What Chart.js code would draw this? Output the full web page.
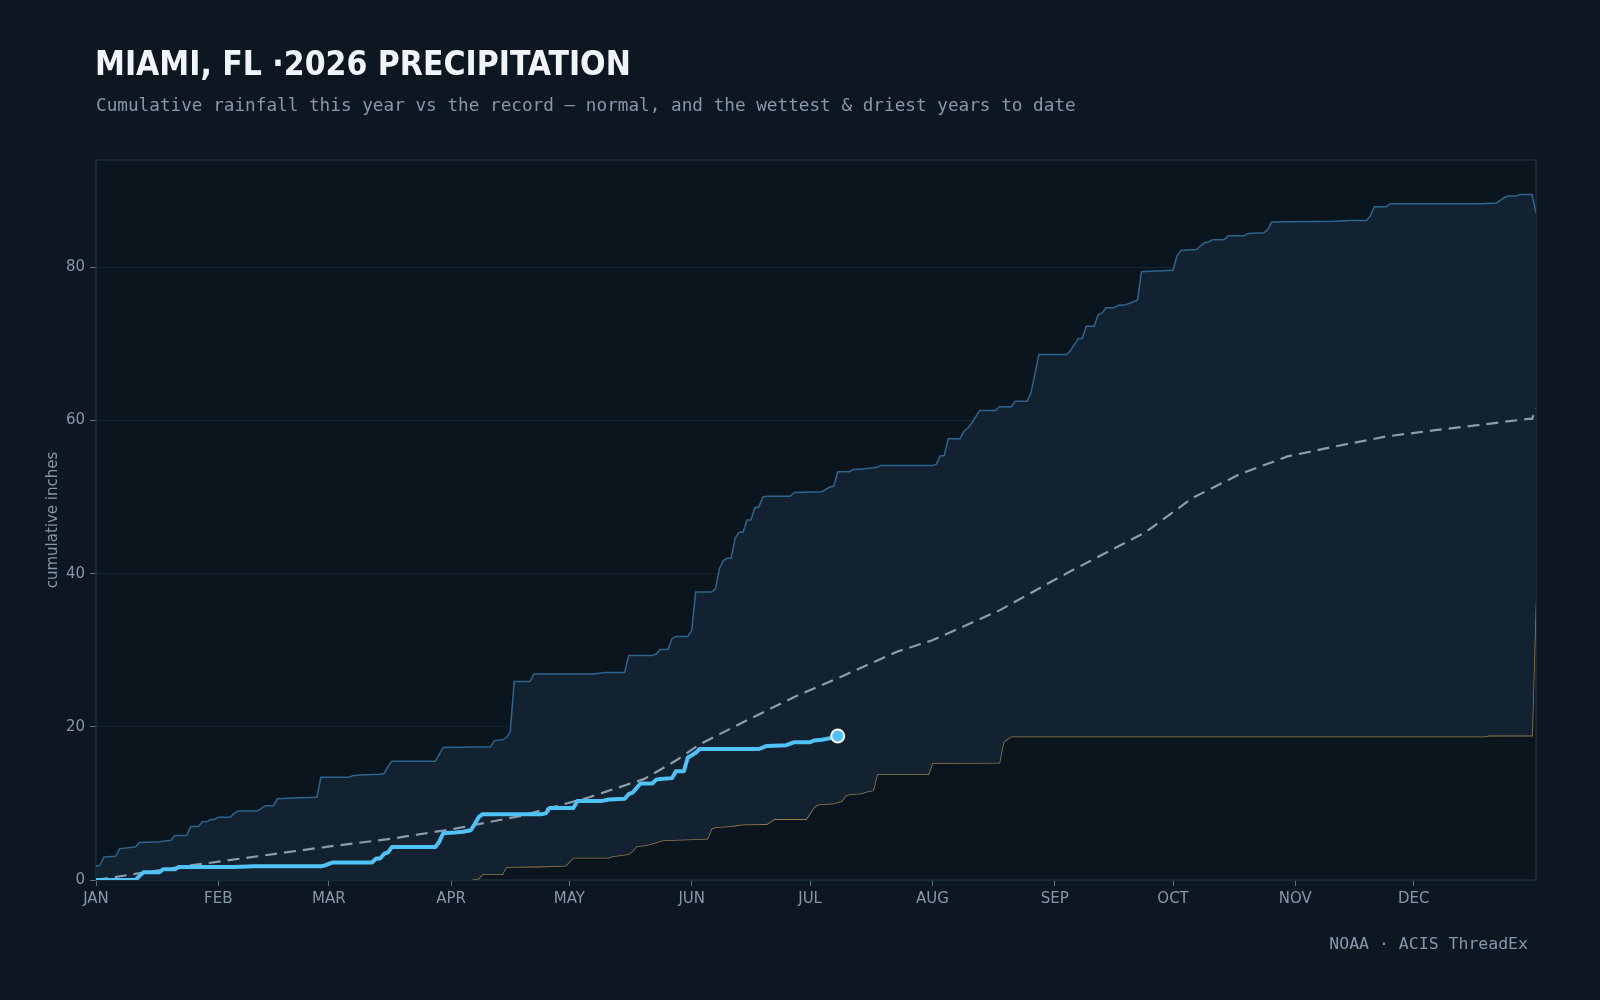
<!DOCTYPE html>
<html>
<head>
<meta charset="utf-8">
<script src="https://cdn.jsdelivr.net/npm/chart.js@4.4.1/dist/chart.umd.min.js"></script>
<style>
  html, body { margin:0; padding:0; background:#0d1721; width:1600px; height:1000px; overflow:hidden; }
  #wrap { position:relative; width:1600px; height:1000px; }
  #c { position:absolute; left:0; top:0; }
  .t { position:absolute; white-space:nowrap; line-height:1; }
  #title { left:95px; top:46.5px; font-family:"DejaVu Sans Condensed","DejaVu Sans",sans-serif; font-stretch:condensed; font-weight:bold; font-size:33.4px; color:#f1f5f9; }
  #subtitle { left:96px; top:97px; font-family:"DejaVu Sans Mono",monospace; font-size:17.7px; color:#8797ab; }
  #footer { right:72px; top:936px; font-family:"DejaVu Sans Mono",monospace; font-size:16.5px; color:#8797ab; }
</style>
</head>
<body>
<div id="wrap">
  <canvas id="c" width="1600" height="1000"></canvas>
  <div class="t" id="title">MIAMI, FL ·2026 PRECIPITATION</div>
  <div class="t" id="subtitle">Cumulative rainfall this year vs the record — normal, and the wettest &amp; driest years to date</div>
  <div class="t" id="footer">NOAA · ACIS ThreadEx</div>
</div>
<script>
// ---- tick labels ----
const MONTH_LABELS = ['JAN','FEB','MAR','APR','MAY','JUN','JUL','AUG','SEP','OCT','NOV','DEC'];
const MONTH_START_DAYS = [0,31,59,90,120,151,181,212,243,273,304,334];
const Y_TICKS = [0,20,40,60,80];

// ---- this year (2026) ----
const YEAR_DAYS   = [0,10,11,12,16,17,20,21,35,40,57,58,59,60,70,71,72,73,74,75,86,87,88,91,93,95,96,97,98,113,114,115,121,122,128,130,134,135,136,137,138,141,142,143,146,147,149,150,151,152,153,168,170,175,177,181,182,184,186,188];
const YEAR_VALUES = [0,0,0.5,1.0,1.0,1.4,1.4,1.7,1.7,1.8,1.8,1.9,2.1,2.3,2.3,2.8,2.8,3.4,3.6,4.3,4.3,5.0,6.1,6.2,6.3,6.5,7.3,8.2,8.6,8.6,8.7,9.4,9.4,10.3,10.3,10.5,10.6,11.2,11.4,12.0,12.6,12.6,13.1,13.2,13.3,14.2,14.2,16.0,16.3,16.6,17.1,17.1,17.5,17.6,18.0,18.0,18.2,18.3,18.5,18.8];

// ---- normal ----
const NORMAL_DAYS   = [0,10,24,41,58,75,91,108,125,139,147,153,164,177,190,203,212,229,243,247,266,278,290,302,315,327,339,352,363,364,365];
const NORMAL_VALUES = [0,0.8,1.9,3.1,4.3,5.4,6.7,8.4,10.8,13.2,15.6,17.7,20.6,23.9,26.8,29.8,31.3,35.2,39.2,40.3,45.4,49.9,53.0,55.3,56.7,57.9,58.7,59.5,60.2,60.2,61.6];

// ---- wettest to date ----
const WET_DAYS   = [0,1,2,5,6,10,11,16,19,20,23,24,26,27,28,29,30,31,34,35,36,41,42,43,45,46,50,56,57,64,65,67,72,73,74,75,86,87,88,100,101,103,104,105,106,110,111,126,129,134,135,141,142,143,145,146,147,150,151,152,156,157,158,159,160,161,162,163,164,165,166,167,168,169,170,176,177,184,186,187,188,191,192,195,198,199,212,213,214,215,216,219,220,221,222,224,228,229,232,233,236,237,239,246,247,249,250,251,253,254,255,256,258,259,261,263,264,265,273,274,275,279,280,281,282,283,286,287,291,292,296,297,298,314,318,322,323,324,327,328,351,355,357,358,360,361,364,365];
const WET_VALUES = [1.8,1.9,3.0,3.1,4.1,4.3,4.9,5.0,5.2,5.8,5.8,7.0,7.0,7.6,7.6,7.9,7.9,8.2,8.2,8.7,9.0,9.0,9.4,9.7,9.7,10.6,10.7,10.8,13.4,13.4,13.6,13.7,13.8,13.9,14.8,15.5,15.5,16.4,17.3,17.4,18.2,18.3,18.6,19.3,25.9,25.9,26.9,26.9,27.1,27.1,29.3,29.3,29.5,30.1,30.1,31.5,31.8,31.8,32.6,37.6,37.6,38.0,40.6,41.7,42.0,42.0,44.6,45.4,45.4,47.0,47.0,48.6,48.7,50.0,50.1,50.1,50.6,50.7,51.3,51.4,53.3,53.3,53.6,53.7,53.9,54.1,54.1,54.3,55.4,55.4,57.6,57.6,58.6,59.0,59.7,61.3,61.3,61.8,61.8,62.5,62.5,63.6,68.6,68.6,69.1,70.7,70.7,72.3,72.3,73.8,74.0,74.7,74.7,75.0,75.1,75.5,75.7,79.4,79.6,81.5,82.2,82.3,82.8,83.2,83.3,83.6,83.6,84.1,84.1,84.4,84.5,84.9,85.9,86.0,86.1,86.1,86.7,87.9,87.9,88.3,88.3,88.4,89.1,89.3,89.3,89.5,89.5,87.1];

// ---- driest to date ----
const DRY_DAYS   = [0,95,97,98,103,104,112,119,121,130,131,134,135,136,137,139,140,142,143,144,150,155,156,157,160,162,164,170,171,172,180,181,182,183,187,189,190,191,194,195,196,197,198,211,212,229,230,231,232,352,353,364,365];
const DRY_VALUES = [0,0,0.2,0.75,0.75,1.7,1.75,1.85,2.9,2.9,3.1,3.3,3.4,3.8,4.4,4.5,4.6,4.9,5.1,5.2,5.3,5.4,6.7,6.9,7.0,7.1,7.25,7.3,7.6,7.95,7.95,8.7,9.5,9.85,10.0,10.3,11.0,11.2,11.3,11.5,11.6,11.7,13.8,13.8,15.25,15.3,18.0,18.4,18.75,18.75,18.85,18.85,37.1];

const Y_MAX = 94;
const X_MAX = 365;

const pts = (xs, ys) => xs.map((x, i) => ({ x: x, y: ys[i] }));

const TEXT = '#8797ab';

const framePlugin = {
  id: 'frame',
  beforeDraw(chart) {
    const { ctx, chartArea: a } = chart;
    ctx.save();
    ctx.fillStyle = '#0b151e';
    ctx.fillRect(a.left, a.top, a.right - a.left, a.bottom - a.top);
    ctx.restore();
  },
  beforeDatasetsDraw(chart) {
    const { ctx, chartArea: a } = chart;
    ctx.save();
    ctx.strokeStyle = '#1b2e41';
    ctx.lineWidth = 1.5;
    ctx.strokeRect(a.left, a.top, a.right - a.left, a.bottom - a.top);
    ctx.restore();
  }
};

const yearData = pts(YEAR_DAYS, YEAR_VALUES);
const lastIdx = yearData.length - 1;

new Chart(document.getElementById('c'), {
  type: 'line',
  data: {
    datasets: [
      {
        label: '2026',
        data: yearData,
        borderColor: '#4fc3f7',
        borderWidth: 4,
        borderJoinStyle: 'round',
        borderCapStyle: 'round',
        fill: false,
        pointRadius: (c) => c.dataIndex === lastIdx ? 6.5 : 0,
        pointBackgroundColor: '#4fc3f7',
        pointBorderColor: '#ffffff',
        pointBorderWidth: 2,
        tension: 0
      },
      {
        label: 'Normal',
        data: pts(NORMAL_DAYS, NORMAL_VALUES),
        borderColor: '#8d9bab',
        borderWidth: 2.2,
        borderDash: [12, 7],
        fill: false,
        pointRadius: 0,
        tension: 0
      },
      {
        label: 'Wettest',
        data: pts(WET_DAYS, WET_VALUES),
        borderColor: '#2b6590',
        borderWidth: 1.5,
        backgroundColor: '#122231',
        fill: 3,
        pointRadius: 0,
        tension: 0
      },
      {
        label: 'Driest',
        data: pts(DRY_DAYS, DRY_VALUES),
        borderColor: '#987a4a',
        borderWidth: 1.6,
        fill: false,
        pointRadius: 0,
        tension: 0
      }
    ]
  },
  options: {
    responsive: false,
    devicePixelRatio: 1,
    animation: false,
    events: [],
    layout: { padding: { left: 0, right: 64, top: 160, bottom: 80 } },
    plugins: {
      legend: { display: false },
      tooltip: { enabled: false },
      title: { display: false }
    },
    scales: {
      x: {
        type: 'linear',
        min: 0,
        max: X_MAX,
        afterBuildTicks: (s) => { s.ticks = MONTH_START_DAYS.map(v => ({ value: v })); },
        afterFit: (s) => { s.height = 40; },
        ticks: {
          autoSkip: false,
          maxRotation: 0,
          padding: 4,
          color: TEXT,
          font: { family: 'DejaVu Sans', size: 15 },
          callback: (v) => MONTH_LABELS[MONTH_START_DAYS.indexOf(v)]
        },
        grid: { display: true, drawOnChartArea: false, tickLength: 6, tickColor: '#5f7084', tickWidth: 1 },
        border: { display: false }
      },
      y: {
        min: 0,
        max: Y_MAX,
        afterBuildTicks: (s) => { s.ticks = Y_TICKS.map(v => ({ value: v })); },
        afterFit: (s) => { s.width = 96; },
        ticks: {
          padding: 5,
          color: TEXT,
          font: { family: 'DejaVu Sans', size: 15 }
        },
        grid: { color: '#142534', lineWidth: 1, tickLength: 6, tickColor: '#5f7084' },
        border: { display: false },
        title: {
          display: true,
          text: 'cumulative inches',
          color: TEXT,
          font: { family: 'DejaVu Sans', size: 15 },
          padding: { top: 44, bottom: 0 }
        }
      }
    }
  },
  plugins: [framePlugin]
});
</script>
</body>
</html>
